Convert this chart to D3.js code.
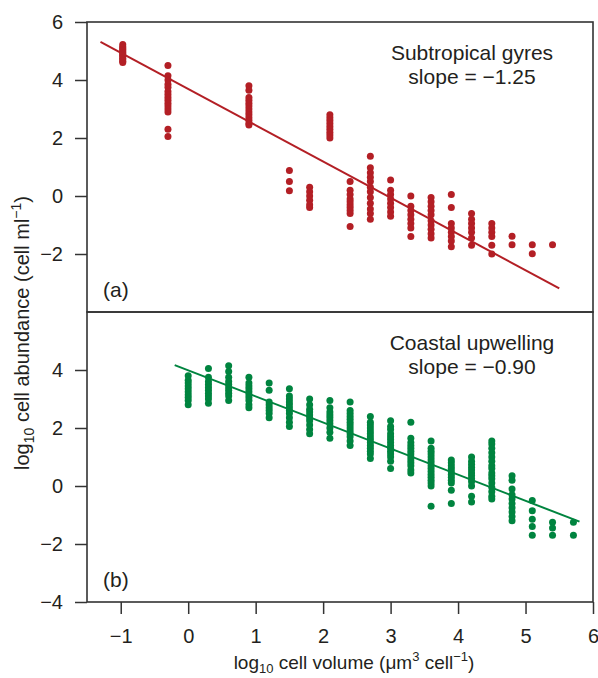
<!DOCTYPE html>
<html>
<head>
<meta charset="utf-8">
<script src="https://cdn.jsdelivr.net/npm/d3@7"></script>
<style>
  body { margin: 0; background: #fff; }
  svg { display: block; font-family: "Liberation Sans", Arial, sans-serif; }
  .axis text { fill: #231f20; font-size: 20px; }
  .axis line { stroke: #333; stroke-width: 1.5; }
</style>
</head>
<body>
<div id="chart"></div>
<script>
// canvas
const width = 598,
  height = 678

// tick labels
const xTicks = [-1, 0, 1, 2, 3, 4, 5, 6]
const yTicksTop = [6, 4, 2, 0, -2]
const yTicksBottom = [4, 2, 0, -2, -4]

// (a) subtropical gyres: log10 cell volume of each column and the abundances in it
const gyreX = [-0.97, -0.3, 0.9, 2.1, 1.5, 1.8, 2.4, 2.7, 3.0, 3.3, 3.6, 3.9, 4.2, 4.5, 4.8, 5.1, 5.4]
const gyreY = [
  [5.22, 5.15, 5.1, 5.05, 5.0, 4.95, 4.9, 4.85, 4.8, 4.75, 4.7, 4.65, 4.6],
  [4.5, 4.15, 4.0, 3.85, 3.75, 3.6, 3.5, 3.4, 3.3, 3.2, 3.1, 3.0, 2.9, 2.3, 2.05],
  [3.8, 3.65, 3.4, 3.3, 3.2, 3.1, 3.0, 2.9, 2.8, 2.7, 2.6, 2.5, 2.45],
  [2.8, 2.7, 2.6, 2.5, 2.4, 2.3, 2.2, 2.1, 2.0],
  [0.88, 0.5, 0.18],
  [0.3, 0.15, 0.0, -0.15, -0.3, -0.4],
  [0.5, 0.2, 0.05, -0.1, -0.2, -0.3, -0.4, -0.5, -0.6, -1.05],
  [1.37, 0.97, 0.8, 0.65, 0.5, 0.3, 0.15, -0.05, -0.25, -0.45, -0.6, -0.8],
  [0.55, 0.2, 0.05, -0.1, -0.25, -0.4, -0.55, -0.7],
  [0.0, -0.35, -0.5, -0.65, -0.8, -0.95, -1.1, -1.4],
  [-0.05, -0.2, -0.35, -0.5, -0.65, -0.85, -1.0, -1.15, -1.3, -1.45],
  [0.05, -0.4, -0.95, -1.1, -1.25, -1.4, -1.55, -1.75],
  [-0.6, -0.8, -0.95, -1.1, -1.25, -1.45, -1.7],
  [-0.95, -1.1, -1.25, -1.4, -1.7, -2.0],
  [-1.39, -1.68],
  [-1.68, -1.99],
  [-1.68]
]
const gyreSlope = -1.25
const gyreIntercept = 3.69
const gyreRange = [-1.3, 5.5]

// (b) coastal upwelling
const upwellX = [0.0, 0.3, 0.6, 0.9, 1.2, 1.5, 1.8, 2.1, 2.4, 2.7, 3.0, 3.3, 3.6, 3.9, 4.2, 4.5, 4.8, 5.1, 5.4, 5.71]
const upwellY = [
  [3.8, 3.65, 3.55, 3.45, 3.35, 3.25, 3.15, 3.05, 2.95, 2.8],
  [4.05, 3.75, 3.6, 3.5, 3.4, 3.3, 3.2, 3.1, 3.0, 2.85],
  [4.15, 3.95, 3.75, 3.6, 3.5, 3.4, 3.3, 3.2, 3.1, 2.95],
  [3.75, 3.55, 3.45, 3.35, 3.25, 3.15, 3.05, 2.95, 2.8, 2.7],
  [3.55, 3.3, 2.9, 2.8, 2.7, 2.6, 2.5, 2.35],
  [3.35, 3.1, 3.0, 2.9, 2.8, 2.7, 2.6, 2.5, 2.35, 2.2, 2.05],
  [3.0, 2.8, 2.65, 2.55, 2.45, 2.35, 2.25, 2.1, 1.95, 1.8],
  [2.95, 2.7, 2.55, 2.45, 2.35, 2.25, 2.15, 2.0, 1.85, 1.65],
  [2.9, 2.6, 2.5, 2.4, 2.3, 2.2, 2.1, 2.0, 1.9, 1.8, 1.7, 1.55, 1.4],
  [2.4, 2.2, 2.1, 2.0, 1.9, 1.8, 1.7, 1.6, 1.5, 1.4, 1.3, 1.2, 1.1, 0.95],
  [2.25, 2.05, 1.95, 1.8, 1.7, 1.6, 1.5, 1.4, 1.3, 1.2, 1.1, 1.0, 0.85, 0.6],
  [2.2, 1.65, 1.5, 1.4, 1.3, 1.2, 1.1, 1.0, 0.9, 0.8, 0.7, 0.55, 0.45],
  [1.55, 1.3, 1.2, 1.1, 1.0, 0.9, 0.8, 0.7, 0.6, 0.5, 0.4, 0.3, 0.2, 0.1, 0.0, -0.7],
  [0.9, 0.8, 0.7, 0.6, 0.5, 0.4, 0.3, 0.2, 0.1, -0.15, -0.6],
  [1.0, 0.85, 0.75, 0.65, 0.55, 0.45, 0.35, 0.25, 0.15, 0.0, -0.35, -0.55],
  [1.55, 1.45, 1.3, 1.15, 1.0, 0.85, 0.7, 0.6, 0.45, 0.35, 0.25, 0.1, -0.05, -0.2, -0.35, -0.45],
  [0.35, 0.2, -0.1, -0.3, -0.45, -0.6, -0.75, -0.9, -1.05, -1.2],
  [-0.5, -0.85, -1.15, -1.4, -1.7],
  [-1.25, -1.45, -1.7],
  [-1.25, -1.7]
]
const upwellSlope = -0.90
const upwellIntercept = 3.99
const upwellRange = [-0.2, 5.8]

const red = '#b31f25',
  green = '#00843f',
  ink = '#231f20'

let svg = d3.select('#chart')
  .append('svg')
  .attr('width', width)
  .attr('height', height)

// scales
const xScale = d3.scaleLinear().domain([-1.5, 6]).range([87, 593])
const yTop = d3.scaleLinear().domain([-4, 6]).range([312, 22])
const yBottom = d3.scaleLinear().domain([-4, 6]).range([602, 312])

const minus = d => d < 0 ? '\u2212' + Math.abs(d) : d

// flatten columns into points
const toPoints = (xs, ys) => xs.flatMap((x, i) => ys[i].map(y => [x, y]))

let panel = (yScale, ticks, points, color, slope, intercept, range, title, note, tag) => {
  // frame
  svg.append('rect')
    .attr('x', xScale.range()[0])
    .attr('y', yScale.range()[1])
    .attr('width', xScale.range()[1] - xScale.range()[0])
    .attr('height', yScale.range()[0] - yScale.range()[1])
    .attr('fill', 'none')
    .attr('stroke', '#333')
    .attr('stroke-width', 1.6)

  // y axis
  let ax = svg.append('g')
    .attr('class', 'axis')
    .attr('transform', `translate(${xScale.range()[0]},0)`)
    .call(d3.axisLeft(yScale).tickValues(ticks).tickSize(12).tickPadding(12).tickFormat(minus))
  ax.select('.domain').remove()

  // points
  svg.append('g')
    .selectAll('circle')
    .data(points)
    .enter()
    .append('circle')
    .attr('cx', d => xScale(d[0]))
    .attr('cy', d => yScale(d[1]))
    .attr('r', 3.5)
    .attr('fill', color)

  // regression line
  svg.append('line')
    .attr('x1', xScale(range[0]))
    .attr('y1', yScale(intercept + slope * range[0]))
    .attr('x2', xScale(range[1]))
    .attr('y2', yScale(intercept + slope * range[1]))
    .attr('stroke', color)
    .attr('stroke-width', 2)

  // labels
  let top = yScale.range()[1]
  svg.append('text')
    .attr('x', 472).attr('y', top + 38)
    .attr('text-anchor', 'middle')
    .attr('font-size', 21).attr('fill', ink)
    .text(title)
  svg.append('text')
    .attr('x', 472).attr('y', top + 62)
    .attr('text-anchor', 'middle')
    .attr('font-size', 21).attr('fill', ink)
    .text(note)
  svg.append('text')
    .attr('x', 103).attr('y', yScale.range()[0] - 15)
    .attr('font-size', 21).attr('fill', ink)
    .text(tag)
}

panel(yTop, yTicksTop, toPoints(gyreX, gyreY), red, gyreSlope, gyreIntercept, gyreRange,
  'Subtropical gyres', 'slope = \u22121.25', '(a)')
panel(yBottom, yTicksBottom, toPoints(upwellX, upwellY), green, upwellSlope, upwellIntercept, upwellRange,
  'Coastal upwelling', 'slope = \u22120.90', '(b)')

// x axis
let xAx = svg.append('g')
  .attr('class', 'axis')
  .attr('transform', `translate(0,${yBottom.range()[0]})`)
  .call(d3.axisBottom(xScale).tickValues(xTicks).tickSize(12).tickPadding(15).tickFormat(minus))
xAx.select('.domain').remove()

// axis titles
let xt = svg.append('text')
  .attr('x', 354).attr('y', 669)
  .attr('text-anchor', 'middle')
  .attr('font-size', 19).attr('fill', ink)
xt.append('tspan').text('log')
xt.append('tspan').attr('font-size', 13).attr('dy', 4).text('10')
xt.append('tspan').attr('dy', -4).text(' cell volume (\u03bcm')
xt.append('tspan').attr('font-size', 13).attr('dy', -8).text('3')
xt.append('tspan').attr('dy', 8).text(' cell')
xt.append('tspan').attr('font-size', 13).attr('dy', -8).text('\u22121')
xt.append('tspan').attr('dy', 8).text(')')

let yt = svg.append('text')
  .attr('transform', 'translate(29,333) rotate(-90)')
  .attr('text-anchor', 'middle')
  .attr('font-size', 20).attr('fill', ink)
yt.append('tspan').text('log')
yt.append('tspan').attr('font-size', 14).attr('dy', 5).text('10')
yt.append('tspan').attr('dy', -5).text(' cell abundance (cell ml')
yt.append('tspan').attr('font-size', 14).attr('dy', -8).text('\u22121')
yt.append('tspan').attr('dy', 8).text(')')
</script>
</body>
</html>
